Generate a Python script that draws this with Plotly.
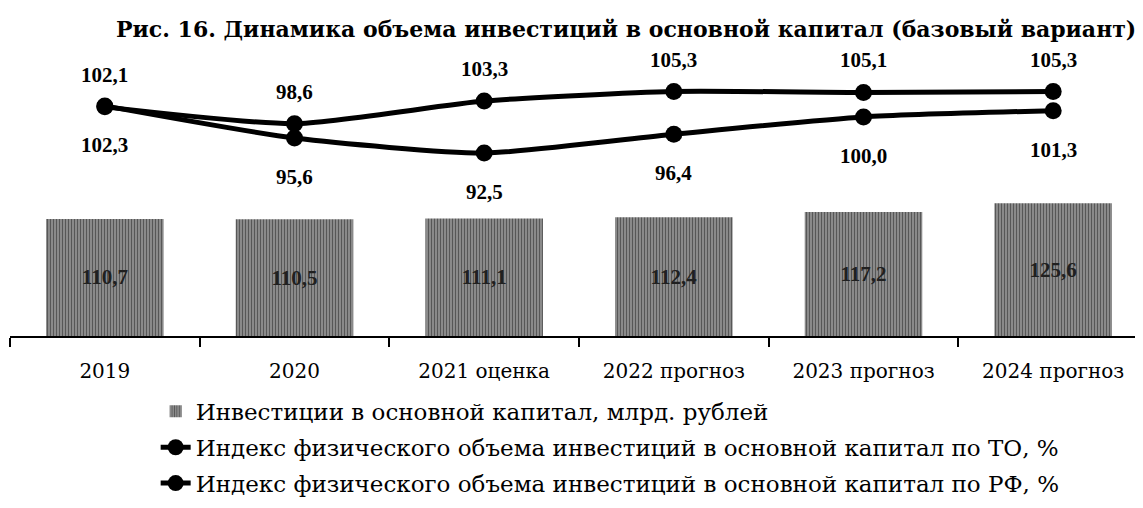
import plotly.graph_objects as go

categories = ["2019", "2020", "2021 оценка", "2022 прогноз", "2023 прогноз", "2024 прогноз"]
invest_bn = [110.7, 110.5, 111.1, 112.4, 117.2, 125.6]
index_to = [102.3, 95.6, 92.5, 96.4, 100.0, 101.3]
index_rf = [102.1, 98.6, 103.3, 105.3, 105.1, 105.3]

name_bar = "Инвестиции в основной капитал, млрд. рублей"
name_to = "Индекс физического объема инвестиций в основной капитал по ТО, %"
name_rf = "Индекс физического объема инвестиций в основной капитал по РФ, %"

SERIF = "Liberation Serif"
WIDE = "DejaVu Serif"

def fmt(v):
    return f"{v:.1f}".replace(".", ",")

fig = go.Figure()

fig.add_trace(go.Bar(
    x=categories, y=invest_bn, name=name_bar, width=0.62,
    marker=dict(color="#8a8a8a", line=dict(width=0),
                pattern=dict(shape="|", fgcolor="#141414", bgcolor="#9a9a9a", size=3, solidity=0.5)),
    text=[f"<b>{fmt(v)}</b>" for v in invest_bn], textposition="inside", insidetextanchor="middle",
    textfont=dict(family=SERIF, size=21, color="#202020"),
    legendgroup="a",
))

for name, vals, grp in [(name_to, index_to, "b"), (name_rf, index_rf, "c")]:
    fig.add_trace(go.Scatter(
        x=categories, y=vals, name=name, yaxis="y2", mode="lines+markers",
        line=dict(color="black", width=5, shape="spline", smoothing=0.6),
        marker=dict(color="black", size=17),
        legendgroup=grp,
    ))

annotations = []
for i, v in enumerate(index_rf):
    annotations.append(dict(x=i, y=v, xref="x", yref="y2", text=f"<b>{fmt(v)}</b>", showarrow=False,
                            yshift=32, font=dict(family=SERIF, size=21, color="black")))
for i, v in enumerate(index_to):
    annotations.append(dict(x=i, y=v, xref="x", yref="y2", text=f"<b>{fmt(v)}</b>", showarrow=False,
                            yshift=-39, font=dict(family=SERIF, size=21, color="black")))

annotations.append(dict(text="<b>Рис. 16. Динамика объема инвестиций в основной капитал (базовый вариант)</b>",
                        xref="paper", yref="paper", x=0.541, y=1.0, yshift=-4, xanchor="center", yanchor="bottom",
                        showarrow=False, font=dict(family=WIDE, size=22, color="black")))

fig.update_layout(
    width=1143, height=508,
    margin=dict(l=2, r=3, t=32, b=180, autoexpand=False),
    paper_bgcolor="white", plot_bgcolor="white",
    showlegend=True,
    bargap=0.38,
    xaxis=dict(type="category", range=[-0.5, 5.5], showline=True, linecolor="black", linewidth=2,
               ticks="outside", tickson="boundaries", ticklen=9, tickwidth=1.5, tickcolor="black",
               ticklabelstandoff=16,
               tickfont=dict(family=WIDE, size=20, color="black"), showgrid=False, zeroline=False),
    yaxis=dict(range=[0, 280], visible=False, showgrid=False, zeroline=False),
    yaxis2=dict(range=[54.36, 116.03], overlaying="y", visible=False, showgrid=False, zeroline=False),
    legend=dict(x=0.128, y=-0.182, xanchor="left", yanchor="top", orientation="v",
                traceorder="grouped", tracegroupgap=3,
                font=dict(family=WIDE, size=23, color="black"), bgcolor="rgba(0,0,0,0)"),
    annotations=annotations,
)

fig.write_html("out.html")
